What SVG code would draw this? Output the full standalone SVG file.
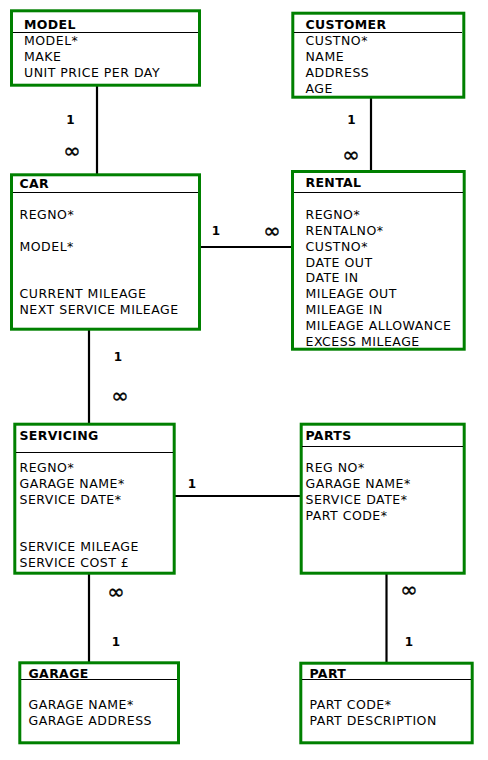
<svg xmlns="http://www.w3.org/2000/svg" width="488" height="760" viewBox="0 0 488 760">
<style>
.box{fill:#fff;stroke:#008000;stroke-width:3}
.sep{stroke:#000;stroke-width:1}
.hd{font-family:"DejaVu Sans",Verdana,sans-serif;font-weight:bold;font-size:12.5px;letter-spacing:0.35px;fill:#000}
.at{font-family:"DejaVu Sans",Verdana,sans-serif;font-size:12.5px;letter-spacing:0.5px;fill:#000}
.con line{stroke:#000;stroke-width:2.2}
.one{font-family:"DejaVu Sans",Verdana,sans-serif;font-weight:bold;font-size:12px;fill:#000;text-anchor:middle}
.inf{font-family:"DejaVu Sans",sans-serif;font-size:21px;fill:#000;stroke:#000;stroke-width:0.4;text-anchor:middle}
</style>
<g id="connectors" class="con">
<line x1="97" y1="86" x2="97" y2="174"/>
<line x1="371" y1="98" x2="371" y2="171"/>
<line x1="200" y1="247" x2="292" y2="247"/>
<line x1="89" y1="330" x2="89" y2="423"/>
<line x1="175" y1="496" x2="301" y2="496"/>
<line x1="89" y1="574" x2="89" y2="662"/>
<line x1="386.5" y1="574" x2="386.5" y2="662"/>
<text class="one" x="70.5" y="124">1</text>
<text class="inf" x="72" y="158">∞</text>
<text class="one" x="351.5" y="124">1</text>
<text class="inf" x="351" y="162">∞</text>
<text class="one" x="216" y="235">1</text>
<text class="inf" x="272" y="238">∞</text>
<text class="one" x="118" y="361">1</text>
<text class="inf" x="120" y="403">∞</text>
<text class="one" x="192" y="488">1</text>
<text class="inf" x="116" y="599">∞</text>
<text class="one" x="116" y="646">1</text>
<text class="inf" x="409" y="597">∞</text>
<text class="one" x="409" y="646">1</text>
</g>
<g id="model">
<rect class="box" x="11.5" y="10.8" width="188" height="74.4"/>
<line class="sep" x1="13" y1="32.5" x2="198" y2="32.5"/>
<text class="hd" x="24" y="28.5">MODEL</text>
<text class="at" x="24" y="45">MODEL*</text>
<text class="at" x="24" y="61">MAKE</text>
<text class="at" x="24" y="77">UNIT PRICE PER DAY</text>
</g>
<g id="customer">
<rect class="box" x="292.8" y="13.2" width="171" height="84"/>
<line class="sep" x1="294" y1="32.5" x2="462" y2="32.5"/>
<text class="hd" x="305.5" y="28.5">CUSTOMER</text>
<text class="at" x="305.5" y="45">CUSTNO*</text>
<text class="at" x="305.5" y="61">NAME</text>
<text class="at" x="305.5" y="77">ADDRESS</text>
<text class="at" x="305.5" y="92.5">AGE</text>
</g>
<g id="car">
<rect class="box" x="11.5" y="174.8" width="188" height="154.4"/>
<line class="sep" x1="13" y1="192.5" x2="198" y2="192.5"/>
<text class="hd" x="19.5" y="187.5">CAR</text>
<text class="at" x="19.5" y="219">REGNO*</text>
<text class="at" x="19.5" y="251">MODEL*</text>
<text class="at" x="19.5" y="298">CURRENT MILEAGE</text>
<text class="at" x="19.5" y="313.5">NEXT SERVICE MILEAGE</text>
</g>
<g id="rental">
<rect class="box" x="292.5" y="171.5" width="171.7" height="177.7"/>
<line class="sep" x1="294" y1="192.5" x2="463" y2="192.5"/>
<text class="hd" x="305.5" y="187">RENTAL</text>
<text class="at" x="305.5" y="219">REGNO*</text>
<text class="at" x="305.5" y="234.5">RENTALNO*</text>
<text class="at" x="305.5" y="250.5">CUSTNO*</text>
<text class="at" x="305.5" y="266.5">DATE OUT</text>
<text class="at" x="305.5" y="282">DATE IN</text>
<text class="at" x="305.5" y="298">MILEAGE OUT</text>
<text class="at" x="305.5" y="314">MILEAGE IN</text>
<text class="at" x="305.5" y="329.5">MILEAGE ALLOWANCE</text>
<text class="at" x="305.5" y="345.5">EXCESS MILEAGE</text>
</g>
<g id="servicing">
<rect class="box" x="14.8" y="424.2" width="159.4" height="149"/>
<line class="sep" x1="16" y1="452.5" x2="173" y2="452.5"/>
<text class="hd" x="19.5" y="439.5">SERVICING</text>
<text class="at" x="19.5" y="472">REGNO*</text>
<text class="at" x="19.5" y="488">GARAGE NAME*</text>
<text class="at" x="19.5" y="503.5">SERVICE DATE*</text>
<text class="at" x="19.5" y="551">SERVICE MILEAGE</text>
<text class="at" x="19.5" y="567">SERVICE COST £</text>
</g>
<g id="parts">
<rect class="box" x="301.2" y="424.2" width="163" height="149"/>
<line class="sep" x1="302" y1="446.5" x2="463" y2="446.5"/>
<text class="hd" x="305.5" y="439.5">PARTS</text>
<text class="at" x="305.5" y="472">REG NO*</text>
<text class="at" x="305.5" y="488">GARAGE NAME*</text>
<text class="at" x="305.5" y="503.5">SERVICE DATE*</text>
<text class="at" x="305.5" y="520">PART CODE*</text>
</g>
<g id="garage">
<rect class="box" x="19.8" y="662.8" width="158.7" height="80"/>
<line class="sep" x1="21" y1="679.5" x2="177" y2="679.5"/>
<text class="hd" x="28.5" y="678">GARAGE</text>
<text class="at" x="28.5" y="709">GARAGE NAME*</text>
<text class="at" x="28.5" y="725">GARAGE ADDRESS</text>
</g>
<g id="part">
<rect class="box" x="300.8" y="663.2" width="171.4" height="79.6"/>
<line class="sep" x1="302" y1="679.5" x2="471" y2="679.5"/>
<text class="hd" x="309.5" y="678">PART</text>
<text class="at" x="309.5" y="709">PART CODE*</text>
<text class="at" x="309.5" y="725">PART DESCRIPTION</text>
</g>
</svg>
